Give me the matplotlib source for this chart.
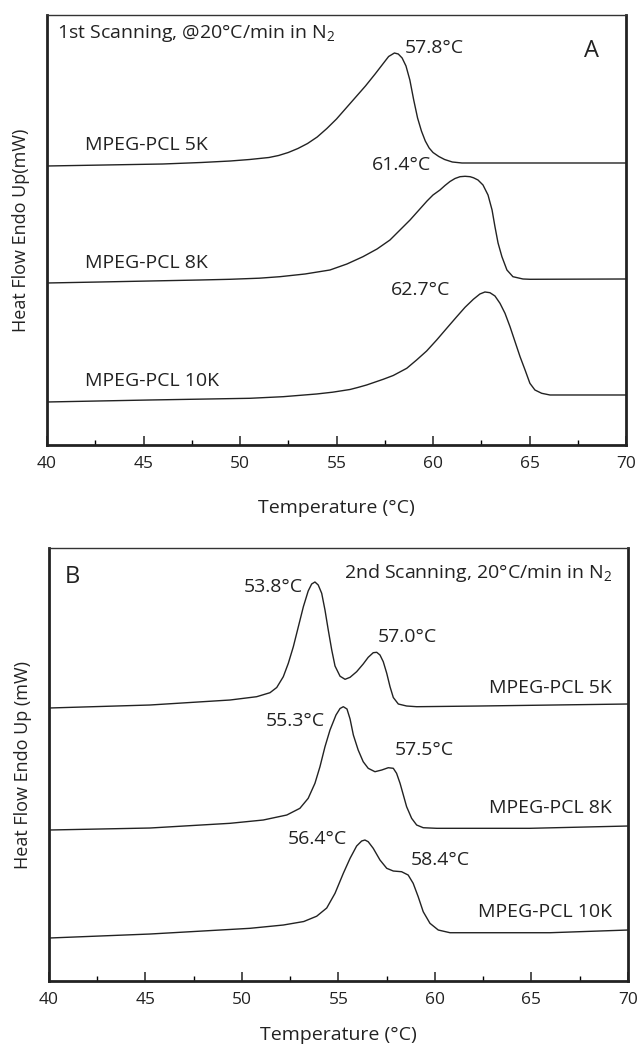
import matplotlib
matplotlib.use("Agg")
import matplotlib.pyplot as plt
from matplotlib.ticker import MultipleLocator

plt.rcParams['font.family'] = ['Open Sans', 'DejaVu Sans']
plt.rcParams['mathtext.fontset'] = 'custom'
plt.rcParams['mathtext.rm'] = 'Open Sans'

# ---- panel A : 1st scanning (heat flow in arbitrary units)
a_t_5k = [40.0, 43.0, 46.0, 48.0, 49.5, 50.5, 51.5, 52.0, 52.5, 53.0, 53.5, 54.0,
          54.5, 55.0, 55.5, 56.0, 56.5, 57.0, 57.4, 57.7, 58.0, 58.2, 58.4, 58.6,
          58.8, 59.0, 59.2, 59.4, 59.6, 59.8, 60.0, 60.3, 60.6, 61.0, 61.5, 70.0]
a_h_5k = [279, 280, 281, 282.5, 284, 285.5, 287.5, 289.5, 292.5, 296.5, 301.5, 308,
          316.5, 326, 337, 348, 359, 371, 381, 388.5, 392, 391, 387, 379,
          365, 345, 327, 314, 304, 297, 292.5, 288.5, 285.5, 283, 282, 282]

a_t_8k = [40.0, 42.75, 45.34, 47.93, 49.48, 51.0, 52.07, 53.37, 54.66, 55.54, 56.37, 57.10,
          57.77, 58.81, 59.69, 60.00, 60.36, 60.62, 60.88, 61.14, 61.40, 61.66, 61.92, 62.10,
          62.33, 62.59, 62.85, 63.06, 63.21, 63.37, 63.57, 63.83, 64.14, 64.66, 65.03, 70.0]
a_h_8k = [162, 163, 164, 165, 165.7, 166.8, 168.3, 171, 175, 181, 188.3, 196,
          205, 225, 244, 250, 255, 259.5, 263.5, 266.5, 268.3, 268.7, 268.3, 267.2,
          265, 260, 250, 235, 218.3, 202, 188.3, 175, 168.3, 166, 165.7, 166]

a_t_10k = [40.0, 45.34, 50.52, 52.24, 53.97, 54.80, 55.70, 56.10, 56.56, 57.42, 57.94, 58.64,
           59.15, 59.67, 60.19, 60.71, 61.23, 61.66, 62.09, 62.43, 62.69, 62.95, 63.21, 63.47,
           63.73, 63.99, 64.25, 64.51, 64.77, 65.02, 65.28, 65.63, 66.06, 70.0]
a_h_10k = [43, 45, 46.7, 48.3, 51, 52.8, 55.5, 57.5, 60, 65.7, 69.5, 76.7,
           85, 94, 105, 116.7, 128.3, 137.7, 145.7, 151, 153, 152.3, 149, 141.7,
           131.7, 118.3, 103.3, 88.3, 75, 61.7, 55, 51.7, 50, 50]

# ---- panel B : 2nd scanning
b_t_5k = [40.0, 45.23, 49.38, 50.76, 51.45, 51.80, 52.14, 52.40, 52.66, 52.92, 53.18, 53.43,
          53.61, 53.78, 53.95, 54.13, 54.30, 54.47, 54.65, 54.82, 55.08, 55.34, 55.60, 55.94,
          56.28, 56.54, 56.80, 56.98, 57.15, 57.32, 57.50, 57.67, 57.84, 58.10, 58.53, 59.05,
          62.33, 70.0]
b_h_5k = [273, 276, 281, 284.3, 288.3, 293.5, 304.3, 317.7, 334.3, 354.3, 374.3, 390,
          397, 399, 396, 387.7, 371, 351, 331, 315, 304.8, 301.7, 303.7, 309.3,
          317, 323.7, 328.3, 328.7, 326, 319.3, 307.7, 294.3, 283.5, 277, 275, 274.3,
          275, 277]

b_t_8k = [40.0, 45.23, 49.38, 51.10, 52.32, 53.00, 53.43, 53.78, 54.04, 54.30, 54.56, 54.87,
          55.08, 55.25, 55.44, 55.60, 55.77, 56.02, 56.28, 56.54, 56.89, 57.24, 57.58, 57.84,
          58.01, 58.19, 58.36, 58.53, 58.79, 59.05, 59.39, 60.09, 64.92, 70.0]
b_h_8k = [151, 153, 157.7, 161, 166, 172.7, 182.7, 197.7, 214.3, 234.3, 251, 266,
          272.5, 274.3, 272, 262, 246, 231, 219.3, 212.7, 209.3, 211, 213.3, 212.7,
          207.7, 197.7, 186, 174.3, 162.7, 156, 153.3, 152.7, 152.7, 155]

b_t_10k = [40.0, 45.23, 50.41, 52.14, 53.20, 53.87, 54.39, 54.82, 55.25, 55.60, 55.94, 56.20,
           56.37, 56.54, 56.80, 57.15, 57.50, 57.84, 58.27, 58.61, 58.87, 59.13, 59.39, 59.74,
           60.17, 60.78, 65.96, 70.0]
b_h_10k = [43, 47, 52.7, 56, 59.5, 64.8, 73, 87.7, 107.7, 122.7, 135, 140,
           141, 139.3, 132.7, 121, 112.7, 110, 109.3, 106, 97.7, 84.3, 69.3, 57.7,
           51, 48.3, 48.3, 51]

deg = '°'

fig = plt.figure(figsize=(6.38, 10.49), dpi=100)
axA = fig.add_axes([0.0737, 0.5758, 0.9075, 0.4099])
axB = fig.add_axes([0.0768, 0.0648, 0.9075, 0.4128])


def style(ax, ylab, ymax, xlab_y):
    ax.set_xlim(40, 70)
    ax.set_ylim(0, ymax)
    ax.set_yticks([])
    ax.xaxis.set_major_locator(MultipleLocator(5))
    ax.xaxis.set_minor_locator(MultipleLocator(2.5))
    ax.tick_params(axis='x', which='major', direction='in', length=6.5, width=1.1,
                   labelsize=12.5, pad=8, colors='#222222')
    ax.tick_params(axis='x', which='minor', direction='in', length=3.3, width=1.0)
    for s in ['left', 'bottom', 'right']:
        ax.spines[s].set_linewidth(2.0)
        ax.spines[s].set_color('#222222')
    ax.spines['top'].set_linewidth(1.0)
    ax.spines['top'].set_color('#333333')
    ax.set_ylabel(ylab, fontsize=13, color='#222222')
    ax.yaxis.set_label_coords(-0.03, 0.5)
    ax.set_xlabel('Temperature (' + deg + 'C)', fontsize=14, color='#222222')
    ax.xaxis.set_label_coords(0.5, xlab_y)


lw = 1.0
col = '#222222'
txt = dict(fontsize=14, color='#222222', va='center')

axA.plot(a_t_5k, a_h_5k, color=col, lw=lw)
axA.plot(a_t_8k, a_h_8k, color=col, lw=lw)
axA.plot(a_t_10k, a_h_10k, color=col, lw=lw)
style(axA, 'Heat Flow Endo Up(mW)', 430, -0.125)

axA.text(40.52, 412, '1st Scanning, @20' + deg + 'C/min in N$_\\mathregular{2}$', ha='left', **txt)
axA.text(68.19, 394, 'A', ha='center', fontsize=17, color='#222222', va='center')
axA.text(60.05, 397, '57.8' + deg + 'C', ha='center', **txt)
axA.text(58.39, 280, '61.4' + deg + 'C', ha='center', **txt)
axA.text(59.33, 155, '62.7' + deg + 'C', ha='center', **txt)
axA.text(41.97, 300, 'MPEG-PCL 5K', ha='left', **txt)
axA.text(41.97, 182, 'MPEG-PCL 8K', ha='left', **txt)
axA.text(41.97, 64, 'MPEG-PCL 10K', ha='left', **txt)

axB.plot(b_t_5k, b_h_5k, color=col, lw=lw)
axB.plot(b_t_8k, b_h_8k, color=col, lw=lw)
axB.plot(b_t_10k, b_h_10k, color=col, lw=lw)
style(axB, 'Heat Flow Endo Up (mW)', 433, -0.103)

axB.text(41.19, 404, 'B', ha='center', fontsize=17, color='#222222', va='center')
axB.text(69.17, 408, '2nd Scanning, 20' + deg + 'C/min in N$_\\mathregular{2}$', ha='right', **txt)
axB.text(51.61, 394, '53.8' + deg + 'C', ha='center', **txt)
axB.text(58.55, 344, '57.0' + deg + 'C', ha='center', **txt)
axB.text(69.17, 293, 'MPEG-PCL 5K', ha='right', **txt)
axB.text(52.75, 260, '55.3' + deg + 'C', ha='center', **txt)
axB.text(59.43, 231, '57.5' + deg + 'C', ha='center', **txt)
axB.text(69.17, 173, 'MPEG-PCL 8K', ha='right', **txt)
axB.text(53.89, 142, '56.4' + deg + 'C', ha='center', **txt)
axB.text(60.26, 121, '58.4' + deg + 'C', ha='center', **txt)
axB.text(69.17, 69, 'MPEG-PCL 10K', ha='right', **txt)

fig.savefig('out.png', dpi=100)
